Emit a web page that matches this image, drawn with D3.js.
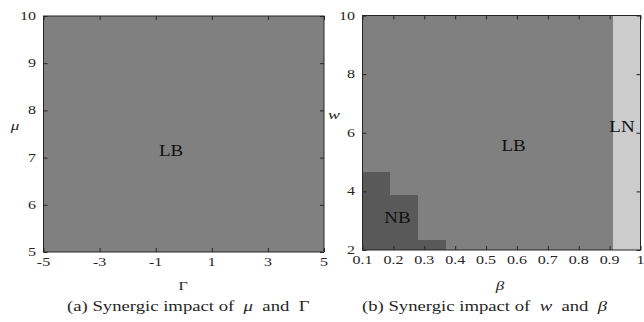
<!DOCTYPE html>
<html><head><meta charset="utf-8">
<script src="https://cdn.jsdelivr.net/npm/d3@7"></script>
<style>
body{margin:0;background:#fff;}
svg text{font-family:"Liberation Serif","Times New Roman",serif;fill:#262626;white-space:pre;}
</style></head>
<body>
<svg id="c" width="644" height="322"></svg>
<script>
// ---- data ----
const gammaTicks = [-5,-3,-1,1,3,5];
const muTicks = [5,6,7,8,9,10];
const gammaDomain = [-5,5];
const muDomain = [5,10];
const leftRegions = [{label:"LB", g0:-5, g1:5, m0:5, m1:10}];

const betaTicks = [0.1,0.2,0.3,0.4,0.5,0.6,0.7,0.8,0.9,1];
const wTicks = [2,4,6,8,10];
const betaEdges = [0.1,0.19,0.28,0.37,0.46,0.55,0.64,0.73,0.82,0.91,1.0];
const nbTopW = [4.67,3.89,2.34,2,2,2,2,2,2,2];      // NB occupies w in [2, nbTopW]
const lnColumn = [false,false,false,false,false,false,false,false,false,true];
const regionColors = {NB:"#595959", LB:"#808080", LN:"#cccccc"};
const leftLabels = [{t:"LB", x:-0.45, y:7.15}];
const rightLabels = [{t:"LB", x:0.589, y:5.58},{t:"NB", x:0.213, y:3.12},{t:"LN", x:0.94, y:6.22}];

const svg = d3.select("#c");
const frameColor = "#262626";
const SY = 0.74; // vertical squash of the original figure's text

function txt(parent, x, y, size, anchor, sy){
  return parent.append("text")
    .attr("transform",`translate(${x},${y}) scale(1,${sy||SY})`)
    .attr("font-size",size).attr("text-anchor",anchor||"middle");
}

function drawAxes(g, x, y, xt, yt, w, h, xfmt, yfmt){
  const ts = 4;
  const style = a=>{a.select(".domain").remove();a.selectAll("line").attr("stroke",frameColor);a.selectAll("text").remove();};
  g.append("g").attr("transform",`translate(0,${h})`).call(d3.axisBottom(x).tickValues(xt).tickSize(-ts)).call(style);
  g.append("g").call(d3.axisTop(x).tickValues(xt).tickSize(-ts)).call(style);
  g.append("g").call(d3.axisLeft(y).tickValues(yt).tickSize(-ts)).call(style);
  g.append("g").attr("transform",`translate(${w},0)`).call(d3.axisRight(y).tickValues(yt).tickSize(-ts)).call(style);
  g.append("rect").attr("x",0).attr("y",0).attr("width",w).attr("height",h)
    .attr("fill","none").attr("stroke",frameColor).attr("stroke-width",1);
  g.selectAll("text.xt").data(xt).join("text").attr("class","xt")
    .attr("transform",d=>`translate(${x(d)},${h+14}) scale(1,${SY})`)
    .attr("font-size",16).attr("text-anchor","middle").text(xfmt);
  g.selectAll("text.yt").data(yt).join("text").attr("class","yt")
    .attr("transform",d=>`translate(-7.5,${y(d)+4}) scale(1,${SY})`)
    .attr("font-size",16).attr("text-anchor","end").text(yfmt);
}

// ---- panel (a) ----
{
  const L=43.5, T=16, W=280.5, H=236;
  const g = svg.append("g").attr("transform",`translate(${L},${T})`);
  const x = d3.scaleLinear().domain(gammaDomain).range([0,W]);
  const y = d3.scaleLinear().domain(muDomain).range([H,0]);
  g.selectAll("rect.cell").data(leftRegions).join("rect").attr("class","cell")
    .attr("x",d=>x(d.g0)).attr("width",d=>x(d.g1)-x(d.g0))
    .attr("y",d=>y(d.m1)).attr("height",d=>y(d.m0)-y(d.m1))
    .attr("fill",d=>regionColors[d.label]);
  drawAxes(g,x,y,gammaTicks,muTicks,W,H,d=>String(d),d=>String(d));
  g.selectAll("text.lab").data(leftLabels).join("text").attr("class","lab")
    .attr("transform",d=>`translate(${x(d.x)},${y(d.y)+5.5}) scale(1,0.88)`)
    .attr("text-anchor","middle").attr("font-size",19).style("fill","#111").text(d=>d.t);
  txt(svg,183,289.5,16).text("Γ");
  txt(svg,15,129.5,17).attr("font-style","italic").text("μ");
  const cap = txt(svg,67,311,18.7,"start");
  cap.append("tspan").text("(a) Synergic impact of  ");
  cap.append("tspan").attr("font-style","italic").text("μ");
  cap.append("tspan").text("  and  Γ");
}

// ---- panel (b) ----
{
  const L=362.5, T=15.5, W=278, H=234.5;
  const g = svg.append("g").attr("transform",`translate(${L},${T})`);
  const x = d3.scaleLinear().domain([betaEdges[0],betaEdges[betaEdges.length-1]]).range([0,W]);
  const y = d3.scaleLinear().domain([wTicks[0],wTicks[wTicks.length-1]]).range([H,0]);
  const cells = [];
  for(let i=0;i<betaEdges.length-1;i++){
    const b0=betaEdges[i], b1=betaEdges[i+1];
    if(lnColumn[i]){ cells.push({b0,b1,w0:2,w1:10,k:"LN"}); continue; }
    if(nbTopW[i]>2) cells.push({b0,b1,w0:2,w1:nbTopW[i],k:"NB"});
    cells.push({b0,b1,w0:nbTopW[i],w1:10,k:"LB"});
  }
  g.selectAll("rect.cell").data(cells).join("rect").attr("class","cell")
    .attr("x",d=>x(d.b0)).attr("width",d=>x(d.b1)-x(d.b0)+0.3)
    .attr("y",d=>y(d.w1)).attr("height",d=>y(d.w0)-y(d.w1)+0.3)
    .attr("fill",d=>regionColors[d.k]).attr("shape-rendering","crispEdges");
  drawAxes(g,x,y,betaTicks,wTicks,W,H,d=>d===1?"1":d3.format(".1f")(d),d=>String(d));
  g.selectAll("text.lab").data(rightLabels).join("text").attr("class","lab")
    .attr("transform",d=>`translate(${x(d.x)},${y(d.y)+5.5}) scale(1,0.88)`)
    .attr("text-anchor","middle").attr("font-size",19).style("fill","#111").text(d=>d.t);
  txt(svg,500,289.5,17).attr("font-style","italic").text("β");
  txt(svg,334,118.5,18).attr("font-style","italic").text("w");
  const cap = txt(svg,362,311,18.7,"start");
  cap.append("tspan").text("(b) Synergic impact of  ");
  cap.append("tspan").attr("font-style","italic").text("w");
  cap.append("tspan").text("  and  ");
  cap.append("tspan").attr("font-style","italic").text("β");
}
</script>
</body></html>
